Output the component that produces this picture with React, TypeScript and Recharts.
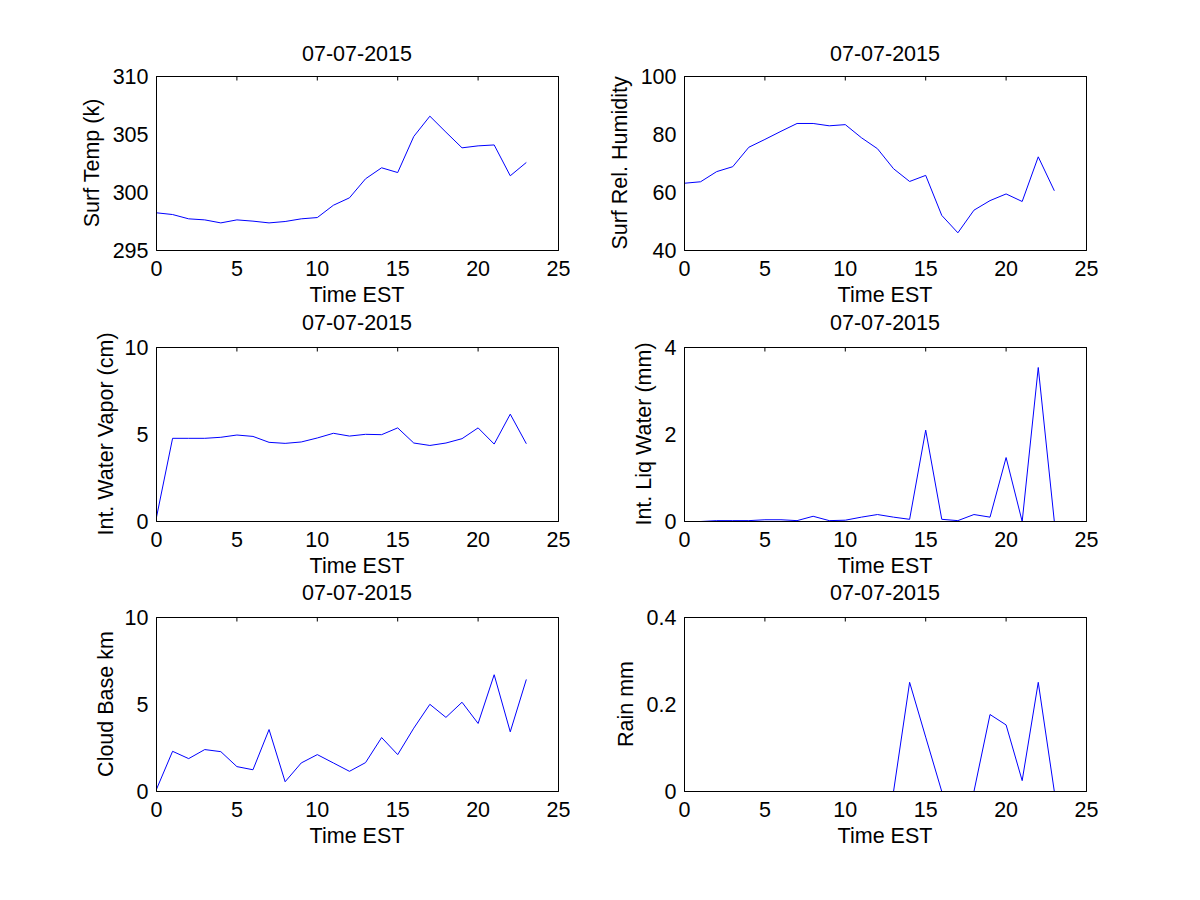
import React from 'react';
import { LineChart, Line, XAxis, YAxis } from 'recharts';

// ---- data ----
const hours = [0, 1, 2, 3, 4, 5, 6, 7, 8, 9, 10, 11, 12, 13, 14, 15, 16, 17, 18, 19, 20, 21, 22, 23];
const xTicks = [0, 5, 10, 15, 20, 25];

const surfTemp = [298.25, 298.1, 297.73, 297.64, 297.38, 297.64, 297.53, 297.38, 297.5, 297.73, 297.84, 298.9, 299.54, 301.18, 302.13, 301.72, 304.83, 306.58, 305.2, 303.85, 304.02, 304.1, 301.44, 302.59];
const surfRelHum = [63.2, 63.7, 67.2, 68.9, 75.6, 78.3, 81.1, 83.8, 83.8, 83.0, 83.4, 78.9, 75.1, 68.2, 63.8, 65.9, 52.1, 46.1, 53.9, 57.2, 59.5, 56.9, 72.3, 60.6];
const intWaterVapor = [0.25, 4.78, 4.78, 4.78, 4.84, 4.97, 4.89, 4.55, 4.49, 4.57, 4.8, 5.07, 4.91, 5.01, 4.99, 5.38, 4.51, 4.37, 4.51, 4.76, 5.38, 4.45, 6.17, 4.47];
const intLiqWater = [0, 0, 0.02, 0.02, 0.02, 0.04, 0.04, 0.02, 0.12, 0.02, 0.03, 0.1, 0.16, 0.1, 0.05, 2.1, 0.05, 0.02, 0.16, 0.1, 1.47, 0, 3.54, 0];
const cloudBase = [0.13, 2.31, 1.89, 2.41, 2.29, 1.43, 1.25, 3.56, 0.56, 1.64, 2.12, 1.64, 1.16, 1.66, 3.1, 2.12, 3.64, 5.01, 4.26, 5.13, 3.91, 6.71, 3.43, 6.44];
const rain = [0, 0, 0, 0, 0, 0, 0, 0, 0, 0, 0, 0, 0, 0, 0.251, 0.125, 0, 0, 0, 0.177, 0.153, 0.025, 0.251, 0];

const surfTempTicks = [295, 300, 305, 310];
const surfRelHumTicks = [40, 60, 80, 100];
const intWaterVaporTicks = [0, 5, 10];
const intLiqWaterTicks = [0, 2, 4];
const cloudBaseTicks = [0, 5, 10];
const rainTicks = [0, 0.2, 0.4];

const titleText = '07-07-2015';
const xLabelText = 'Time EST';

// ---- layout ----
const PLOT_W = 402;
const PLOT_H = 174;
const LEFT_W = 100.5;
const TOP_H = 46.5;
const BOTTOM_H = 60.5;
const RIGHT_AX = 1;
const RIGHT_M = 10.5;
const CHART_W = 514;
const CHART_H = 281;
const FONT = 21.5;

type PanelProps = {
  values: number[];
  yLabel: string;
  yTicks: number[];
  left: number;
  top: number;
  yLabelX: number;
  titleY: number;
};

const black = { stroke: '#000', strokeWidth: 1 };
const blank = () => '';

function frameAxes(domain: [number, number], yTicks: number[], withText: boolean, yLabel: string, yLabelX: number, titleY: number) {
  const tickStyle = { fontSize: FONT, fill: '#000' };
  const cy = 46 + PLOT_H / 2;
  return [
    <XAxis
      key="xb"
      xAxisId="bottom"
      dataKey="h"
      type="number"
      domain={[0, 25]}
      ticks={xTicks}
      interval={0}
      height={BOTTOM_H}
      tickSize={-4}
      tickMargin={14}
      tick={withText ? tickStyle : false}
      tickFormatter={withText ? undefined : blank}
      axisLine={black}
      tickLine={withText ? false : black}
      label={
        withText
          ? {
              value: xLabelText,
              content: () => (
                <text x={100 + PLOT_W / 2} y={46 + PLOT_H + 52} textAnchor="middle" fontSize={FONT} fill="#000">
                  {xLabelText}
                </text>
              ),
            }
          : undefined
      }
    />,
    <XAxis
      key="xt"
      xAxisId="top"
      orientation="top"
      dataKey="h"
      type="number"
      domain={[0, 25]}
      ticks={xTicks}
      interval={0}
      height={TOP_H}
      tickSize={-4}
      tickFormatter={blank}
      axisLine={black}
      tickLine={withText ? false : black}
      label={
        withText
          ? {
              value: titleText,
              content: () => (
                <text x={100 + PLOT_W / 2} y={titleY} textAnchor="middle" fontSize={FONT} fill="#000">
                  {titleText}
                </text>
              ),
            }
          : undefined
      }
    />,
    <YAxis
      key="yl"
      yAxisId="left"
      type="number"
      domain={domain}
      ticks={yTicks}
      interval={0}
      width={LEFT_W}
      tickSize={-4}
      tickMargin={12}
      tick={withText ? tickStyle : false}
      tickFormatter={withText ? undefined : blank}
      axisLine={black}
      tickLine={withText ? false : black}
      label={
        withText
          ? {
              value: yLabel,
              content: () => (
                <text
                  x={yLabelX}
                  y={cy}
                  textAnchor="middle"
                  fontSize={FONT}
                  fill="#000"
                  transform={`rotate(-90 ${yLabelX} ${cy})`}
                >
                  {yLabel}
                </text>
              ),
            }
          : undefined
      }
    />,
    <YAxis
      key="yr"
      yAxisId="right"
      orientation="right"
      type="number"
      domain={domain}
      ticks={yTicks}
      interval={0}
      width={RIGHT_AX}
      tickSize={-4}
      tickFormatter={blank}
      axisLine={black}
      tickLine={withText ? false : black}
    />,
  ];
}

function Panel({ values, yLabel, yTicks, left, top, yLabelX, titleY }: PanelProps) {
  const data = hours.map((h, i) => ({ h, v: values[i] }));
  const domain: [number, number] = [yTicks[0], yTicks[yTicks.length - 1]];
  const margin = { top: 0, right: RIGHT_M, bottom: 0, left: 0 };
  return (
    <div style={{ position: 'absolute', left, top, width: CHART_W, height: CHART_H }}>
      <div style={{ position: 'absolute', left: 0, top: 0 }}>
        <LineChart width={CHART_W} height={CHART_H} data={data} margin={margin}>
          <Line
            type="linear"
            dataKey="v"
            xAxisId="bottom"
            yAxisId="left"
            stroke="#0000ff"
            strokeWidth={1}
            dot={false}
            activeDot={false}
            isAnimationActive={false}
          />
          {frameAxes(domain, yTicks, true, yLabel, yLabelX, titleY)}
        </LineChart>
      </div>
      <div style={{ position: 'absolute', left: 0, top: 0, pointerEvents: 'none' }}>
        <LineChart width={CHART_W} height={CHART_H} data={data} margin={margin}>
          <Line
            type="linear"
            dataKey="v"
            xAxisId="bottom"
            yAxisId="left"
            stroke="none"
            strokeOpacity={0}
            dot={false}
            activeDot={false}
            isAnimationActive={false}
          />
          {frameAxes(domain, yTicks, false, yLabel, yLabelX, titleY)}
        </LineChart>
      </div>
    </div>
  );
}

export default function App() {
  const colL = 156 - 100;
  const colR = 684 - 100;
  const row1 = 76 - 46;
  const row2 = 347 - 46;
  const row3 = 617 - 46;
  return (
    <div
      style={{
        position: 'absolute',
        left: 0,
        top: 0,
        width: 1200,
        height: 900,
        background: '#fff',
        fontFamily: "'Liberation Sans', Arial, Helvetica, sans-serif",
      }}
    >
      <Panel values={surfTemp} yLabel="Surf Temp (k)" yTicks={surfTempTicks} left={colL} top={row1} yLabelX={42.6} titleY={30.5} />
      <Panel values={surfRelHum} yLabel="Surf Rel. Humidity" yTicks={surfRelHumTicks} left={colR} top={row1} yLabelX={43.3} titleY={30.5} />
      <Panel values={intWaterVapor} yLabel="Int. Water Vapor (cm)" yTicks={intWaterVaporTicks} left={colL} top={row2} yLabelX={56.6} titleY={28.5} />
      <Panel values={intLiqWater} yLabel="Int. Liq Water (mm)" yTicks={intLiqWaterTicks} left={colR} top={row2} yLabelX={66.6} titleY={28.5} />
      <Panel values={cloudBase} yLabel="Cloud Base km" yTicks={cloudBaseTicks} left={colL} top={row3} yLabelX={57} titleY={28.5} />
      <Panel values={rain} yLabel="Rain mm" yTicks={rainTicks} left={colR} top={row3} yLabelX={49} titleY={28.5} />
    </div>
  );
}
